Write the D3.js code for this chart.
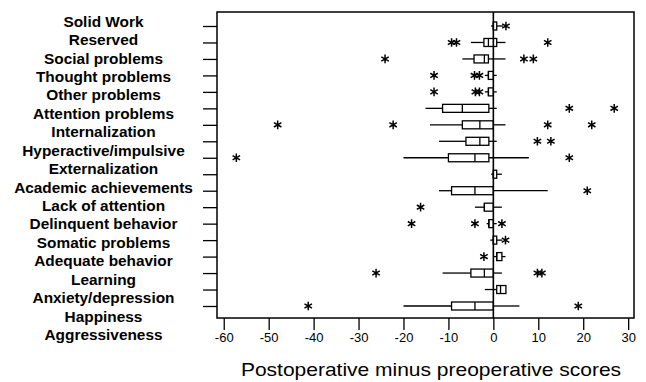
<!DOCTYPE html>
<html>
<head>
<meta charset="utf-8">
<script src="https://cdn.jsdelivr.net/npm/d3@7"></script>
<style>
  html, body { margin: 0; padding: 0; background: #fff; }
  svg { display: block; font-family: 'Liberation Sans', Arial, sans-serif; }
</style>
</head>
<body>
<div id="chart"></div>
<script>
// categories, top to bottom
const labels = [
  'Solid Work', 'Reserved', 'Social problems', 'Thought problems', 'Other problems',
  'Attention problems', 'Internalization', 'Hyperactive/impulsive', 'Externalization',
  'Academic achievements', 'Lack of attention', 'Delinquent behavior', 'Somatic problems',
  'Adequate behavior', 'Learning', 'Anxiety/depression', 'Happiness', 'Aggressiveness'
];

// box plot statistics (postoperative minus preoperative), one entry per category
const whiskerLow = [-0.5, -5, -6.9, -1.9, -1.9, -15.1, -14.1, -12.1, -20, -0.5, -12.1, -4.1, -1.5, -0.7, 0.15, -11.3, -1.9, -20];
const quartile1 = [0, -2.1, -4.3, -1.1, -1.1, -11.3, -6.9, -6.1, -10, 0, -9.3, -2, -1, 0, 0.75, -5, 0.75, -9.3];
const medians = [0, -1.1, -2, -1.1, -1.1, -6.9, -3, -3, -4.1, 0, -4.1, -2, -1, 0, 0.75, -2, 1.6, -4.1];
const quartile3 = [0.75, 0.75, -1.1, 0, 0, -1, 0, -1, -1, 0.75, 0, 0, 0, 0.75, 1.9, 0, 2.8, 0];
const whiskerHigh = [2.2, 2.7, 2.7, 0.75, 0.75, 0.75, 2.7, 0.75, 7.9, 1.9, 12.1, 1.9, 0.75, 2, 2.7, 1.9, 2.8, 5.8];
const outliers = [
  [2.8], [-9.3, -8.2, 12.1], [-24.1, 6.8, 8.9], [-13.2, -4.2, -3.1], [-13.2, -4.0, -3.1],
  [16.9, 26.9], [-48, -22.3, 12.1, 21.9], [9.8, 12.8], [-57.2, 16.9], [],
  [20.9], [-16.2], [-18.2, -4.1, 1.9], [2.7], [-2.1], [-26.1, 9.8, 10.8], [], [-41.2, 18.9]
];

// x axis ticks
const xTicks = [-60, -50, -40, -30, -20, -10, 0, 10, 20, 30];
const xTitle = 'Postoperative minus preoperative scores';

const width = 646;
const height = 382;
const plot = { left: 217, right: 634, top: 12, bottom: 318 };

const svg = d3.select('#chart').append('svg').attr('width', width).attr('height', height);

const x = d3.scaleLinear().domain([-61.5, 31.3]).range([plot.left, plot.right]);
const y = d3.scalePoint().domain(labels).range([26, 306]);
// the category names are spaced on their own, a bit wider than the rows
const yLabel = d3.scalePoint().domain(labels).range([26.7, 340]);

const rows = labels.map((label, i) => ({
  label,
  lo: whiskerLow[i],
  q1: quartile1[i],
  med: medians[i],
  q3: quartile3[i],
  hi: whiskerHigh[i],
  out: outliers[i]
}));

// y ticks (no tick text, names are drawn separately)
svg.append('g')
  .attr('transform', `translate(${plot.left},0)`)
  .call(d3.axisLeft(y).tickSize(14).tickFormat(''))
  .call((g) => g.select('.domain').remove())
  .call((g) => g.selectAll('line').attr('stroke', '#000').attr('stroke-width', 1.3));

svg.append('g')
  .selectAll('text')
  .data(labels)
  .enter()
  .append('text')
  .attr('transform', (d) => `translate(103.5,${yLabel(d)}) scale(1.1,1)`)
  .attr('text-anchor', 'middle')
  .attr('font-size', 14)
  .attr('font-weight', 'bold')
  .attr('fill', '#000')
  .text((d) => d);

// x axis
const xAxis = svg.append('g')
  .attr('transform', `translate(0,${plot.bottom})`)
  .call(d3.axisBottom(x).tickValues(xTicks).tickSize(12).tickFormat(d3.format('d')));
xAxis.select('.domain').remove();
xAxis.selectAll('line').attr('stroke', '#000').attr('stroke-width', 1.3);
xAxis.selectAll('text')
  .attr('font-size', 13)
  .attr('font-family', "'Liberation Sans', Arial, sans-serif")
  .attr('fill', '#000')
  .text((d) => String(d).replace('\u2212', '-'));

svg.append('text')
  .attr('transform', `translate(431,376) scale(1.2,1)`)
  .attr('text-anchor', 'middle')
  .attr('font-size', 17.5)
  .attr('fill', '#000')
  .text(xTitle);

// boxes
const boxH = 8;
const boxes = svg.append('g').attr('class', 'boxes');
const rowG = boxes.selectAll('g.row')
  .data(rows)
  .enter()
  .append('g')
  .attr('class', 'row')
  .attr('transform', (d) => `translate(0,${y(d.label)})`);

rowG.append('line')
  .attr('x1', (d) => x(d.lo)).attr('x2', (d) => x(d.q1))
  .attr('stroke', '#000').attr('stroke-width', 1.3);
rowG.append('line')
  .attr('x1', (d) => x(d.q3)).attr('x2', (d) => x(d.hi))
  .attr('stroke', '#000').attr('stroke-width', 1.3);
rowG.append('rect')
  .attr('x', (d) => x(d.q1))
  .attr('y', -boxH / 2)
  .attr('width', (d) => Math.max(0, x(d.q3) - x(d.q1)))
  .attr('height', boxH)
  .attr('fill', '#fff')
  .attr('stroke', '#000')
  .attr('stroke-width', 1.3);
rowG.append('line')
  .attr('x1', (d) => x(d.med)).attr('x2', (d) => x(d.med))
  .attr('y1', -boxH / 2).attr('y2', boxH / 2)
  .attr('stroke', '#000').attr('stroke-width', 1.3);

// outliers as asterisks
const star = d3.symbol().type(d3.symbolAsterisk).size(52);
rowG.selectAll('path.out')
  .data((d) => d.out)
  .enter()
  .append('path')
  .attr('class', 'out')
  .attr('d', star)
  .attr('transform', (v) => `translate(${x(v)},0)`)
  .attr('fill', 'none')
  .attr('stroke', '#000')
  .attr('stroke-width', 1.5);

// zero reference line, over the boxes
svg.append('line')
  .attr('x1', x(0)).attr('x2', x(0))
  .attr('y1', plot.top).attr('y2', plot.bottom)
  .attr('stroke', '#000')
  .attr('stroke-width', 1.6);

// plot frame
svg.append('rect')
  .attr('x', plot.left).attr('y', plot.top)
  .attr('width', plot.right - plot.left)
  .attr('height', plot.bottom - plot.top)
  .attr('fill', 'none')
  .attr('stroke', '#000')
  .attr('stroke-width', 1.5);
</script>
</body>
</html>
